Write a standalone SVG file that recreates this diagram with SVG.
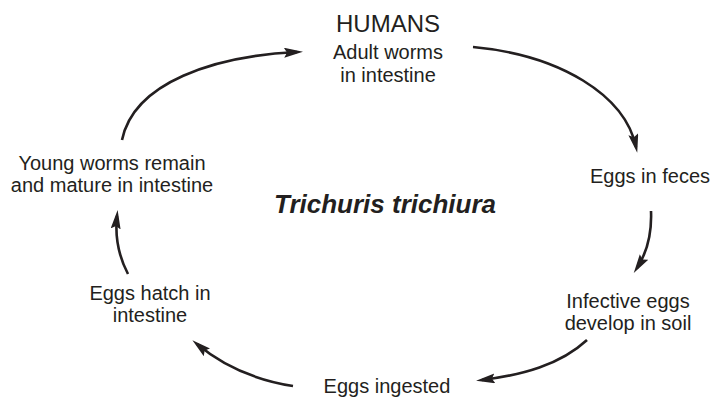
<svg xmlns="http://www.w3.org/2000/svg" width="711" height="398" viewBox="0 0 711 398">
<style>
text{font-family:"Liberation Sans",Arial,sans-serif;font-size:20px;fill:#231f20;text-anchor:middle}
.big{font-size:24px}
.title{font-size:26px;font-weight:bold;font-style:italic}
.c path{fill:none;stroke:#231f20;stroke-width:2.6;marker-end:url(#ah)}
</style>
<defs>
<marker id="ah" markerUnits="userSpaceOnUse" markerWidth="19" markerHeight="11" refX="13" refY="5" orient="auto">
<path d="M0,0 L19,5 L0,10 L3,5 z" fill="#231f20"/>
</marker>
</defs>
<rect width="711" height="398" fill="#fff"/>
<g id="humans"><text class="big" x="388" y="32">HUMANS</text><text x="388" y="59">Adult worms</text><text x="388" y="82">in intestine</text></g>
<g id="feces"><text x="650" y="183">Eggs in feces</text></g>
<g id="soil"><text x="628" y="308">Infective eggs</text><text x="628" y="330">develop in soil</text></g>
<g id="ingested"><text x="387" y="393">Eggs ingested</text></g>
<g id="hatch"><text x="150" y="300">Eggs hatch in</text><text x="150" y="322">intestine</text></g>
<g id="young"><text x="112" y="170">Young worms remain</text><text x="112" y="192">and mature in intestine</text></g>
<g id="title"><text class="title" x="385" y="213">Trichuris trichiura</text></g>
<g class="c" id="connectors">
<path d="M122,140 C134,82 215,56 297,52"/>
<path d="M473,47 C560,55 625,95 636,147"/>
<path d="M651,211 C652,235 646,254 637,268"/>
<path d="M587,340 C560,365 522,375 482,380"/>
<path d="M293,386 C255,380 222,365 197,344"/>
<path d="M128,274 C118,255 115,235 117,216"/>
</g>
</svg>
